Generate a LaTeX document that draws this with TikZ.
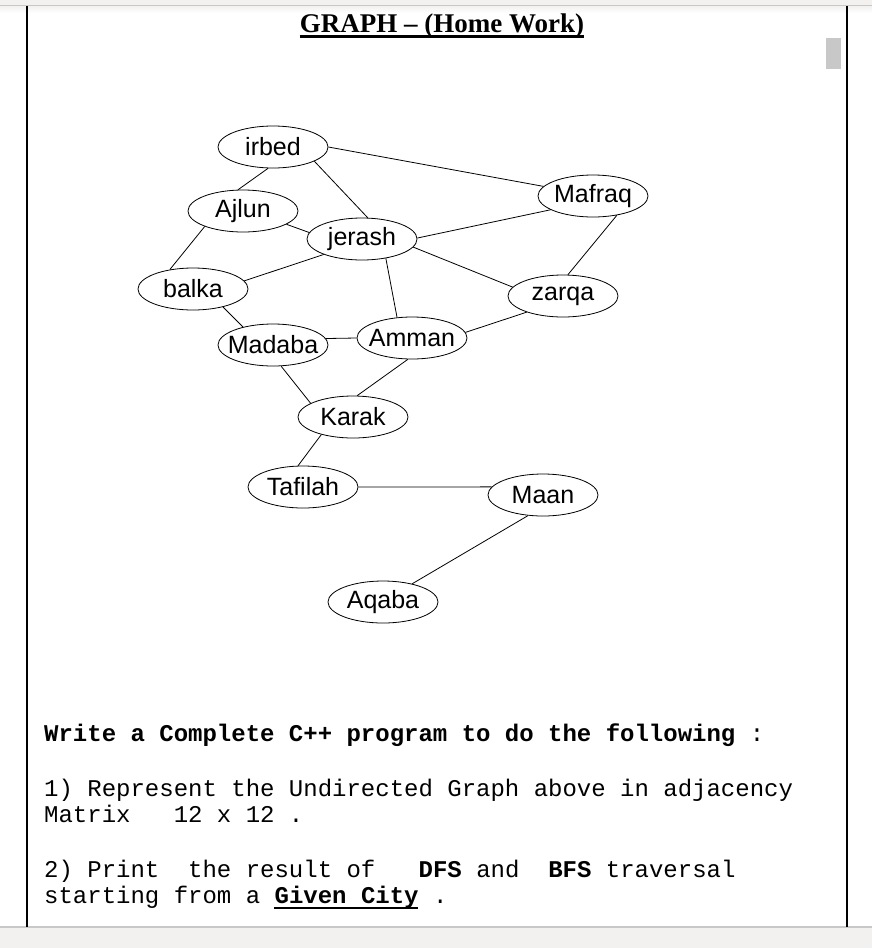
\documentclass[tikz,border=0pt]{standalone}
\usepackage{fontspec}
\usepackage{xcolor}
\usepackage{tikz}
\usetikzlibrary{shapes.geometric}
\newfontfamily\citysans{Liberation Sans}
\newfontfamily\titleserif{Liberation Serif}
\setmonofont{Liberation Mono}
\definecolor{barbg}{HTML}{F2F1F0}
\definecolor{barline}{HTML}{C8C8C8}

\begin{document}
\begin{tikzpicture}[x=1pt,y=-1pt,
    city/.style={draw,ellipse,line width=0.8pt,minimum width=110pt,minimum height=42pt,
      inner xsep=-12pt,inner ysep=0pt,font=\citysans\fontsize{25}{28}\selectfont},
    road/.style={line width=0.8pt},
    task/.style={anchor=base west,inner sep=0pt,font=\ttfamily\fontsize{24}{28}\selectfont}]
  \useasboundingbox (0,0) rectangle (872,948);
  \fill[white] (0,0) rectangle (872,948);
  % window frame
  \fill[barbg] (0,0) rectangle (872,5);
  \shade[top color=barbg,bottom color=white] (0,6) rectangle (872,13);
  \draw[barline,line width=1.2pt] (0,5.5) -- (872,5.5);
  \fill[barbg] (0,927) rectangle (872,948);
  \draw[barline,line width=1.2pt] (0,927) -- (872,927);
  \draw[line width=1.2pt] (27,6) -- (27,927);
  \draw[line width=1.2pt] (847,6) -- (847,927);
  \fill[barline] (826,38) rectangle (841,69);
  % title
  \node[anchor=base,inner sep=0pt,font=\titleserif\bfseries\fontsize{27}{30}\selectfont] (title) at (442,32) {GRAPH – (Home Work)};
  \draw[line width=2.4pt] ([yshift=-4.5pt]title.base west) -- ([yshift=-4.5pt]title.base east);
  % cities
  \foreach \name/\x/\y in {irbed/273/147, Ajlun/243/211, jerash/362/239, Mafraq/593/196,
      balka/193/289, zarqa/563/296, Madaba/273/345, Amman/412/338, Karak/353/417,
      Tafilah/303/487, Maan/543/495, Aqaba/383/602}
    \node[city] (\name) at (\x,\y) {\name};
  % roads (angles = where each line meets the ellipse)
  \foreach \a/\p/\b/\q in {irbed/0/Mafraq/169, irbed/-103/Ajlun/103, irbed/-19/jerash/75,
      Ajlun/-17/jerash/173, Ajlun/-158/balka/140, jerash/-158/balka/9, jerash/1/Mafraq/-162,
      jerash/-9/zarqa/170, jerash/-39/Amman/126, Mafraq/-39/zarqa/77, balka/-31/Madaba/149,
      Madaba/7/Amman/180, Amman/6/zarqa/-156, Madaba/-69/Karak/162, Amman/-101/Karak/79,
      Karak/-151/Tafilah/103, Tafilah/0/Maan/171, Maan/-126/Aqaba/32}
    \draw[road] (\a.\p) -- (\b.\q);
  % homework text
  \node[task] (ln1) at (44,741) {\textbf{Write a Complete C++ program to do the following} :};
  \node[task] (ln2) at (44,796) {1) Represent the Undirected Graph above in adjacency};
  \node[task] (ln3) at (44,822) {Matrix~~~12 x 12 .};
  \node[task] (ln4) at (44,877) {2) Print~~the result of~~~\textbf{DFS} and~~\textbf{BFS} traversal};
  \node[task] (ln5) at (44,903) {starting from a \textbf{Given City} .};
  \draw[line width=2pt] ([xshift=230.4pt,yshift=-5pt]ln5.base west) -- ++(144,0);
\end{tikzpicture}
\end{document}
